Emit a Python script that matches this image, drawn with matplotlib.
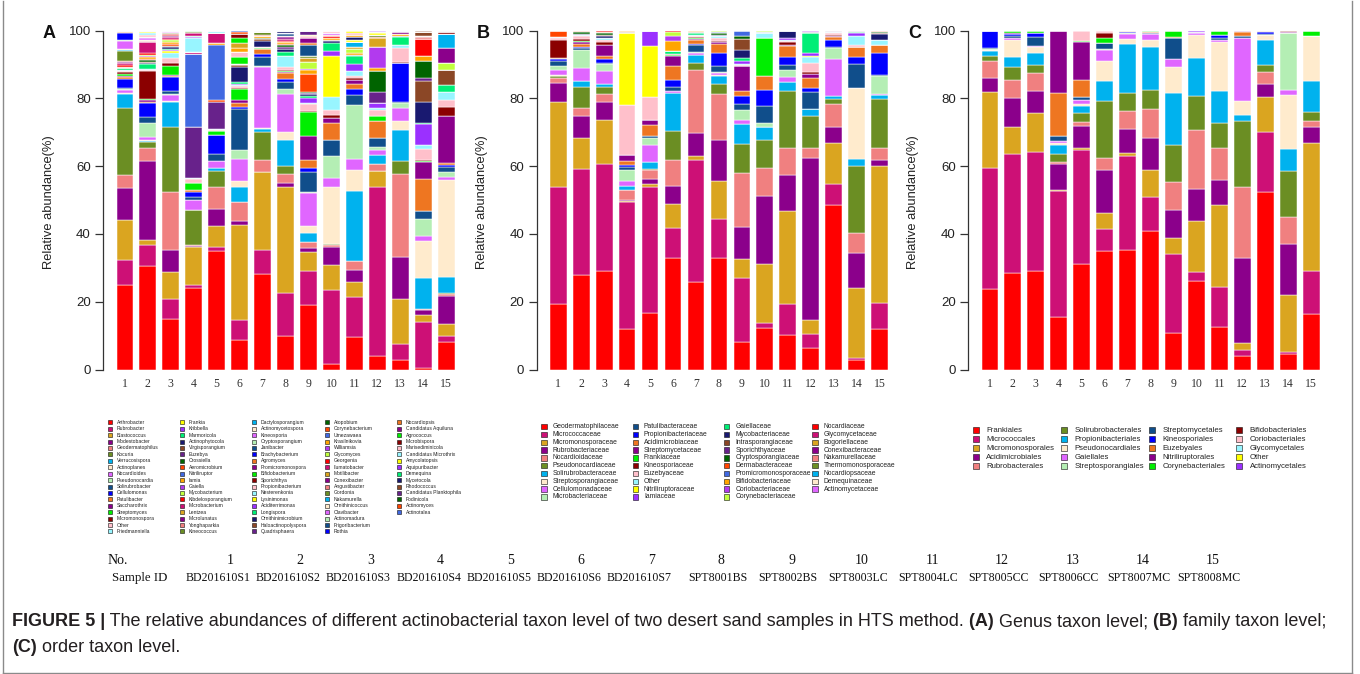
import matplotlib
matplotlib.use('Agg')
import matplotlib.pyplot as plt
from matplotlib.patches import Rectangle
from matplotlib.lines import Line2D
import numpy as np

plt.rcParams['font.family'] = ['Liberation Sans', 'DejaVu Sans']

W, H = 1360, 674

palette = ['#FF0000', '#CD1076', '#DAA520', '#8B008B', '#F08080', '#6B8E23',
           '#00B2EE', '#FFEBCD', '#E066FF', '#B4EEB4', '#104E8B', '#0000FF',
           '#EE7621', '#8B008B', '#00EE00', '#8B0000', '#FFC0CB', '#98F5FF',
           '#FFFF00', '#9B30FF', '#00EE76', '#191970', '#8B4726', '#68228B',
           '#006400', '#FF4500', '#4169E1', '#FFA500', '#B23AEE', '#C0FF3E']

# ---------------- Panel A : genus level ----------------
genus_names = [
    'Arthrobacter', 'Rubrobacter', 'Blastococcus', 'Modestobacter', 'Geodermatophilus', 'Kocuria',
    'Verrucosispora', 'Actinoplanes', 'Nocardioides', 'Pseudonocardia', 'Solirubrobacter', 'Cellulomonas',
    'Patulibacter', 'Saccharothrix', 'Streptomyces', 'Micromonospora', 'Other', 'Friedmanniella',
    'Frankia', 'Kribbella', 'Marmoricola', 'Actinophytocola', 'Virgisporangium', 'Euzebya',
    'Crossiella', 'Aeromicrobium', 'Nitriliruptor', 'Iamia', 'Gaiella', 'Mycobacterium',
    'Kibdelosporangium', 'Microbacterium', 'Lentzea', 'Microlunatus', 'Yonghaparkia', 'Kineococcus',
    'Dactylosporangium', 'Actinomycetospora', 'Kineosporia', 'Cryptosporangium', 'Janibacter', 'Brachybacterium',
    'Agromyces', 'Promicromonospora', 'Bifidobacterium', 'Sporichthya', 'Propionibacterium', 'Nesterenkonia',
    'Lysinimonas', 'Aciditerrimonas', 'Longispora', 'Ornithinimicrobium', 'Haloactinopolyspora', 'Quadrisphaera',
    'Atopobium', 'Corynebacterium', 'Umezawaea', 'Krasilnikovia', 'Williamsia', 'Glycomyces',
    'Georgenia', 'Ilumatobacter', 'Motilibacter', 'Conexibacter', 'Angustibacter', 'Gordonia',
    'Nakamurella', 'Ornithinicoccus', 'Clavibacter', 'Actinomadura', 'Frigoribacterium', 'Rothia',
    'Nocardiopsis', 'Candidatus Aquiluna', 'Agrococcus', 'Microbispora', 'Marisediminicola', 'Candidatus Microthrix',
    'Amycolatopsis', 'Aquipuribacter', 'Demequina', 'Mycetocola', 'Rhodococcus', 'Candidatus Planktophila',
    'Fodinicola', 'Actinomyces', 'Actinotalea']

genus_1 = {'Arthrobacter': 25.0, 'Rubrobacter': 7.4, 'Blastococcus': 11.6, 'Modestobacter': 9.7,
           'Geodermatophilus': 3.6, 'Kocuria': 19.9, 'Verrucosispora': 4.1, 'Actinoplanes': 0.4,
           'Nocardioides': 0.9, 'Pseudonocardia': 0.3, 'Solirubrobacter': 0.3, 'Cellulomonas': 2.4,
           'Patulibacter': 0.6, 'Saccharothrix': 0.3, 'Streptomyces': 0.8, 'Micromonospora': 0.4,
           'Other': 0.4, 'Friedmanniella': 0.3, 'Marmoricola': 0.6, 'Aeromicrobium': 0.4,
           'Kibdelosporangium': 0.4, 'Microbacterium': 0.6, 'Microlunatus': 0.3, 'Yonghaparkia': 0.3,
           'Kineococcus': 2.9, 'Dactylosporangium': 0.3, 'Actinomycetospora': 0.3, 'Kineosporia': 2.5,
           'Cryptosporangium': 0.2, 'Brachybacterium': 2.2, 'Agromyces': 0.3, 'Sporichthya': 0.3}
genus_2 = {'Arthrobacter': 30.5, 'Rubrobacter': 6.3, 'Blastococcus': 1.5, 'Modestobacter': 23.1,
           'Geodermatophilus': 4.1, 'Kocuria': 1.6, 'Verrucosispora': 0.3, 'Actinoplanes': 0.4,
           'Nocardioides': 0.7, 'Pseudonocardia': 4.4, 'Solirubrobacter': 1.6, 'Cellulomonas': 4.1,
           'Patulibacter': 0.5, 'Saccharothrix': 0.3, 'Streptomyces': 0.4, 'Micromonospora': 8.3,
           'Other': 0.3, 'Friedmanniella': 0.3, 'Marmoricola': 1.5, 'Actinophytocola': 0.4,
           'Virgisporangium': 0.3, 'Crossiella': 0.4, 'Aeromicrobium': 0.4, 'Iamia': 0.6, 'Gaiella': 0.3,
           'Mycobacterium': 0.3, 'Kibdelosporangium': 0.4, 'Microbacterium': 3.3, 'Yonghaparkia': 0.4,
           'Actinomycetospora': 0.4, 'Kineosporia': 0.5, 'Cryptosporangium': 0.3, 'Propionibacterium': 0.6,
           'Nesterenkonia': 0.5, 'Lysinimonas': 0.3, 'Aciditerrimonas': 0.4}
genus_3 = {'Arthrobacter': 14.9, 'Rubrobacter': 5.9, 'Blastococcus': 8.0, 'Modestobacter': 6.6,
           'Geodermatophilus': 16.9, 'Kocuria': 19.2, 'Verrucosispora': 7.6, 'Actinoplanes': 0.2,
           'Nocardioides': 1.7, 'Pseudonocardia': 0.3, 'Solirubrobacter': 0.9, 'Cellulomonas': 4.2,
           'Patulibacter': 0.3, 'Saccharothrix': 0.2, 'Streptomyces': 2.8, 'Micromonospora': 0.7,
           'Other': 1.6, 'Friedmanniella': 1.3, 'Frankia': 0.6, 'Kribbella': 0.4, 'Marmoricola': 0.4,
           'Actinophytocola': 0.6, 'Virgisporangium': 0.3, 'Aeromicrobium': 0.4, 'Iamia': 0.8,
           'Mycobacterium': 0.5, 'Kibdelosporangium': 0.3, 'Microbacterium': 0.4, 'Microlunatus': 0.5,
           'Yonghaparkia': 0.4, 'Kineococcus': 0.4, 'Kineosporia': 0.3, 'Brachybacterium': 0.4}
genus_4 = {'Arthrobacter': 24.1, 'Rubrobacter': 0.8, 'Blastococcus': 11.2, 'Modestobacter': 0.4,
           'Geodermatophilus': 0.2, 'Kocuria': 10.3, 'Verrucosispora': 0.2, 'Nocardioides': 2.8,
           'Solirubrobacter': 0.8, 'Cellulomonas': 1.5, 'Patulibacter': 0.7, 'Streptomyces': 2.0,
           'Other': 1.2, 'Friedmanniella': 0.3, 'Euzebya': 15.0, 'Nitriliruptor': 21.5,
           'Microbacterium': 0.8, 'Nesterenkonia': 3.9, 'Aciditerrimonas': 0.3, 'Longispora': 0.4,
           'Ilumatobacter': 0.8, 'Gordonia': 0.4, 'Agrococcus': 0.4}
genus_5 = {'Arthrobacter': 34.9, 'Rubrobacter': 1.3, 'Blastococcus': 6.3, 'Modestobacter': 4.9,
           'Geodermatophilus': 6.6, 'Kocuria': 4.6, 'Verrucosispora': 0.8, 'Nocardioides': 2.0,
           'Solirubrobacter': 2.2, 'Cellulomonas': 5.5, 'Streptomyces': 1.3, 'Other': 0.3,
           'Friedmanniella': 0.4, 'Euzebya': 8.0, 'Aeromicrobium': 0.5, 'Nitriliruptor': 16.2,
           'Iamia': 0.6, 'Microbacterium': 2.8, 'Nesterenkonia': 0.8}
genus_6 = {'Arthrobacter': 8.8, 'Rubrobacter': 5.9, 'Blastococcus': 28.0, 'Modestobacter': 1.0,
           'Geodermatophilus': 5.6, 'Verrucosispora': 4.7, 'Actinoplanes': 1.6, 'Nocardioides': 6.6,
           'Pseudonocardia': 2.6, 'Solirubrobacter': 12.0, 'Cellulomonas': 0.6, 'Patulibacter': 1.2,
           'Saccharothrix': 1.0, 'Streptomyces': 3.1, 'Micromonospora': 0.4, 'Other': 0.5,
           'Friedmanniella': 0.4, 'Kribbella': 0.3, 'Marmoricola': 0.7, 'Actinophytocola': 4.4,
           'Virgisporangium': 0.4, 'Crossiella': 0.4, 'Bifidobacterium': 2.1, 'Propionibacterium': 1.5,
           'Krasilnikovia': 1.2, 'Motilibacter': 1.5, 'Agrococcus': 1.2, 'Microbispora': 1.2,
           'Actinomyces': 0.6, 'Actinotalea': 0.5}
genus_7 = {'Arthrobacter': 28.3, 'Rubrobacter': 7.1, 'Blastococcus': 23.0, 'Geodermatophilus': 3.5,
           'Kocuria': 8.3, 'Verrucosispora': 0.7, 'Actinoplanes': 0.3, 'Nocardioides': 18.2,
           'Pseudonocardia': 0.3, 'Solirubrobacter': 2.6, 'Cellulomonas': 0.7, 'Patulibacter': 1.6,
           'Streptomyces': 0.4, 'Other': 0.3, 'Actinophytocola': 1.8, 'Virgisporangium': 0.5,
           'Crossiella': 0.3, 'Iamia': 0.4, 'Yonghaparkia': 0.5, 'Kineococcus': 0.8,
           'Haloactinopolyspora': 0.4}
genus_8 = {'Arthrobacter': 9.8, 'Rubrobacter': 12.8, 'Blastococcus': 31.4, 'Modestobacter': 1.0,
           'Geodermatophilus': 2.6, 'Kocuria': 2.6, 'Verrucosispora': 7.5, 'Actinoplanes': 2.5,
           'Nocardioides': 11.1, 'Pseudonocardia': 1.5, 'Solirubrobacter': 2.2, 'Cellulomonas': 0.7,
           'Patulibacter': 1.7, 'Saccharothrix': 0.4, 'Streptomyces': 0.3, 'Micromonospora': 0.4,
           'Other': 0.9, 'Friedmanniella': 3.1, 'Marmoricola': 1.2, 'Actinophytocola': 0.8,
           'Euzebya': 0.8, 'Crossiella': 0.4, 'Aeromicrobium': 0.5, 'Iamia': 0.5,
           'Kibdelosporangium': 0.4, 'Microbacterium': 0.5, 'Microlunatus': 0.5, 'Yonghaparkia': 0.4,
           'Janibacter': 0.6, 'Brachybacterium': 0.3, 'Ornithinimicrobium': 0.6}
genus_9 = {'Arthrobacter': 19.0, 'Rubrobacter': 10.1, 'Blastococcus': 5.5, 'Modestobacter': 1.4,
           'Geodermatophilus': 1.6, 'Verrucosispora': 2.7, 'Actinoplanes': 2.2, 'Nocardioides': 9.6,
           'Pseudonocardia': 0.3, 'Solirubrobacter': 5.8, 'Cellulomonas': 1.4, 'Patulibacter': 2.3,
           'Saccharothrix': 6.9, 'Streptomyces': 7.3, 'Micromonospora': 0.3, 'Other': 1.9,
           'Friedmanniella': 0.5, 'Kribbella': 1.2, 'Marmoricola': 0.6, 'Actinophytocola': 0.6,
           'Euzebya': 0.4, 'Crossiella': 0.4, 'Aeromicrobium': 5.2, 'Iamia': 1.2, 'Gaiella': 0.3,
           'Mycobacterium': 2.1, 'Lentzea': 1.2, 'Kineococcus': 0.5, 'Janibacter': 3.2,
           'Agromyces': 0.8, 'Promicromonospora': 1.3, 'Propionibacterium': 0.5, 'Lysinimonas': 0.5,
           'Quadrisphaera': 1.2}
genus_10 = {'Arthrobacter': 1.5, 'Rubrobacter': 21.9, 'Blastococcus': 7.5, 'Modestobacter': 5.2,
            'Geodermatophilus': 0.7, 'Kocuria': 0.2, 'Actinoplanes': 17.0, 'Nocardioides': 2.5,
            'Pseudonocardia': 6.6, 'Solirubrobacter': 4.5, 'Patulibacter': 5.1, 'Saccharothrix': 1.4,
            'Micromonospora': 1.0, 'Other': 1.5, 'Friedmanniella': 3.8, 'Frankia': 12.2,
            'Kribbella': 1.4, 'Marmoricola': 2.5, 'Actinophytocola': 0.4, 'Virgisporangium': 0.4,
            'Iamia': 0.5, 'Kibdelosporangium': 0.5, 'Yonghaparkia': 0.5, 'Kineosporia': 0.4,
            'Propionibacterium': 0.8}
genus_11 = {'Arthrobacter': 9.6, 'Rubrobacter': 11.7, 'Blastococcus': 4.5, 'Modestobacter': 3.7,
            'Geodermatophilus': 2.6, 'Verrucosispora': 20.5, 'Actinoplanes': 6.3, 'Nocardioides': 3.3,
            'Pseudonocardia': 15.9, 'Solirubrobacter': 2.9, 'Cellulomonas': 1.7, 'Patulibacter': 1.6,
            'Saccharothrix': 1.2, 'Micromonospora': 0.6, 'Other': 0.6, 'Friedmanniella': 1.5,
            'Kribbella': 2.1, 'Marmoricola': 2.2, 'Actinophytocola': 0.4, 'Iamia': 0.6,
            'Mycobacterium': 1.0, 'Lentzea': 0.7, 'Dactylosporangium': 1.5, 'Lysinimonas': 0.6,
            'Ornithinimicrobium': 0.8, 'Krasilnikovia': 0.6, 'Marisediminicola': 0.7, 'Amycolatopsis': 0.6}
genus_12 = {'Arthrobacter': 3.9, 'Rubrobacter': 50.1, 'Blastococcus': 4.7, 'Geodermatophilus': 2.0,
            'Verrucosispora': 2.7, 'Nocardioides': 1.4, 'Pseudonocardia': 1.0, 'Solirubrobacter': 2.5,
            'Patulibacter': 4.9, 'Streptomyces': 1.5, 'Other': 1.9, 'Friedmanniella': 0.5,
            'Kribbella': 1.5, 'Euzebya': 3.4, 'Crossiella': 6.1, 'Iamia': 0.8, 'Gaiella': 6.4,
            'Lentzea': 2.4, 'Yonghaparkia': 0.4, 'Kineococcus': 0.5, 'Lysinimonas': 0.6,
            'Longispora': 0.4, 'Aquipuribacter': 0.4}
genus_13 = {'Arthrobacter': 2.8, 'Rubrobacter': 4.6, 'Blastococcus': 13.4, 'Modestobacter': 12.4,
            'Geodermatophilus': 24.5, 'Kocuria': 3.7, 'Verrucosispora': 9.3, 'Actinoplanes': 2.5,
            'Nocardioides': 3.9, 'Pseudonocardia': 1.5, 'Solirubrobacter': 0.4, 'Cellulomonas': 11.4,
            'Micromonospora': 0.5, 'Other': 3.9, 'Friedmanniella': 1.0, 'Marmoricola': 2.2,
            'Actinophytocola': 0.5, 'Iamia': 0.5, 'Microlunatus': 0.5, 'Kineosporia': 0.5}
genus_14 = {'Arthrobacter': 0.5, 'Rubrobacter': 13.4, 'Blastococcus': 2.3, 'Modestobacter': 1.5,
            'Geodermatophilus': 0.2, 'Verrucosispora': 9.1, 'Actinoplanes': 11.0, 'Nocardioides': 1.3,
            'Pseudonocardia': 5.1, 'Solirubrobacter': 2.3, 'Patulibacter': 9.5, 'Saccharothrix': 4.9,
            'Streptomyces': 0.3, 'Micromonospora': 0.3, 'Other': 3.3, 'Friedmanniella': 1.3,
            'Kribbella': 6.2, 'Marmoricola': 0.4, 'Actinophytocola': 6.2, 'Virgisporangium': 6.2,
            'Euzebya': 0.7, 'Crossiella': 5.2, 'Iamia': 1.3, 'Kibdelosporangium': 5.1,
            'Yonghaparkia': 0.5, 'Dactylosporangium': 0.4, 'Haloactinopolyspora': 1.0, 'Rhodococcus': 0.5}
genus_15 = {'Arthrobacter': 8.1, 'Rubrobacter': 1.7, 'Blastococcus': 3.7, 'Modestobacter': 8.3,
            'Geodermatophilus': 0.5, 'Kocuria': 0.4, 'Verrucosispora': 4.6, 'Actinoplanes': 28.5,
            'Nocardioides': 0.9, 'Pseudonocardia': 1.7, 'Solirubrobacter': 1.3, 'Cellulomonas': 0.7,
            'Patulibacter': 0.5, 'Saccharothrix': 13.8, 'Micromonospora': 2.9, 'Other': 2.0,
            'Friedmanniella': 2.4, 'Marmoricola': 2.0, 'Virgisporangium': 4.4, 'Mycobacterium': 2.0,
            'Microlunatus': 4.4, 'Dactylosporangium': 4.2, 'Sporichthya': 0.6, 'Haloactinopolyspora': 0.4}

genus_samples = [genus_1, genus_2, genus_3, genus_4, genus_5, genus_6, genus_7, genus_8,
                 genus_9, genus_10, genus_11, genus_12, genus_13, genus_14, genus_15]

# ---------------- Panel B : family level ----------------
family_names = [
    'Geodermatophilaceae', 'Micrococcaceae', 'Micromonosporaceae', 'Rubrobacteriaceae', 'Nocardioidaceae',
    'Pseudonocardiaceae', 'Solirubrobacteraceae', 'Streptosporangiaceae', 'Cellulomonadaceae', 'Microbacteriaceae',
    'Patulibacteraceae', 'Propionibacteriaceae', 'Acidimicrobiaceae', 'Streptomycetaceae', 'Frankiaceae',
    'Kineosporiaceae', 'Euzebyaceae', 'Other', 'Nitriliruptoraceae', 'Iamiaceae',
    'Gaiellaceae', 'Mycobacteriaceae', 'Intrasporangiaceae', 'Sporichthyaceae', 'Cryptosporangiaceae',
    'Dermabacteraceae', 'Promicromonosporaceae', 'Bifidobacteriaceae', 'Coriobacteriaceae', 'Corynebacteriaceae',
    'Nocardiaceae', 'Glycomycetaceae', 'Bogoriellaceae', 'Conexibacteraceae', 'Nakamurellaceae',
    'Thermomonosporaceae', 'Nocardiopsaceae', 'Demequinaceae', 'Actinomycetaceae']

family_1 = [19.2, 34.8, 25.1, 5.6, 1.4, 0.5, 0.1, 0.2, 1.6, 1.2, 1.4, 0.4, 0.3, 0.2, 0, 5.4, 0.3, 0.3,
            0, 0, 0, 0, 0, 0, 0, 2.0]
family_2 = [27.9, 31.2, 9.3, 6.3, 2.6, 6.1, 1.7, 0.1, 3.8, 5.3, 0.5, 0.5, 0.9, 0.4, 0.3, 0.6, 0.8, 0.4,
            0, 0, 0, 0.3, 0, 0, 0.6, 0.2, 0, 0.2]
family_3 = [29.1, 31.6, 12.8, 5.6, 2.3, 2.0, 0.8, 0.2, 3.8, 1.9, 0.5, 1.1, 0.8, 3.2, 0, 0.9, 0.6, 0.6,
            0, 0, 0, 0.6, 0.4, 0, 0.4, 0.4, 0, 0, 0, 0, 0.4]
family_4 = [12.1, 37.3, 0.3, 0.4, 2.9, 0, 1.3, 0, 1.2, 3.4, 1.0, 0.5, 1.0, 1.8, 0, 0, 14.8, 0,
            21.2, 0.2, 0, 0, 0.3, 0, 0, 0, 0, 0.3]
family_5 = [16.8, 37.2, 0.8, 1.5, 2.7, 0.3, 1.9, 0, 5.0, 2.0, 0.8, 0, 3.2, 1.3, 0, 0, 6.8, 0,
            15.2, 4.5]
family_6 = [32.8, 9.0, 7.0, 5.5, 7.4, 8.7, 11.2, 0, 0.6, 0, 1.2, 2.0, 4.1, 3.0, 0.3, 0.3, 0, 0,
            0, 0, 1.0, 0, 0, 0, 0, 0, 0, 3.0, 1.3, 1.2, 0.4]
family_7 = [25.7, 36.2, 1.0, 7.0, 18.5, 2.1, 2.4, 0, 0.5, 0.3, 2.0, 0.3, 1.2, 0.3, 0.3, 0.2, 0.5, 0.3,
            0, 0, 0.4, 0, 0.4, 0, 0, 0, 0, 0.4]
family_8 = [32.9, 11.6, 11.1, 12.2, 13.6, 3.0, 2.2, 0.3, 0.5, 0.3, 2.0, 3.6, 2.9, 0.4, 0, 0.4, 0.8, 0.6,
            0, 0, 0, 0.4, 0, 0, 0.5, 0, 0.4, 0, 0, 0.3]
family_9 = [8.2, 18.7, 5.6, 9.5, 15.9, 8.8, 5.7, 0, 1.3, 2.8, 2.0, 2.1, 1.6, 7.3, 0, 0, 0.5, 0.3,
            0, 0.7, 1.0, 2.3, 3.2, 0, 0.8, 0, 1.7]
family_10 = [12.3, 1.5, 17.2, 20.3, 8.3, 8.1, 3.9, 0, 0, 1.2, 4.9, 4.9, 4.0, 0, 11.1, 0, 0, 1.5,
             0, 0, 0, 0.5, 0, 0, 0, 0, 0, 0, 0, 0.3]
family_11 = [10.1, 9.1, 27.5, 10.6, 8.2, 16.6, 2.7, 0, 1.5, 2.1, 1.4, 2.5, 3.2, 0.4, 0, 0.9, 0.3, 0.3,
             0, 0.3, 0, 2.3]
family_12 = [6.2, 4.2, 4.1, 47.8, 3.1, 9.3, 2.3, 0, 0, 0, 4.9, 1.2, 2.8, 1.2, 0, 0.6, 2.8, 1.8,
             0.3, 0.7, 5.9, 0, 0, 0.4, 0, 0, 0, 0, 0.4]
family_13 = [48.7, 6.1, 12.1, 4.7, 6.7, 1.6, 0.8, 0, 10.8, 3.5, 0.3, 2.1, 0.6, 0.3, 0, 0.4, 0.5, 0.3,
             0, 0, 0, 0, 0, 0.5]
family_14 = [2.8, 0.5, 20.9, 10.1, 6.1, 19.8, 1.8, 21.0, 0, 0, 7.3, 2.0, 3.0, 0, 0, 0, 0.4, 2.7,
             0, 0.8, 0.3, 0.2, 0, 0.3]
family_15 = [12.1, 7.4, 40.7, 1.7, 3.6, 14.2, 1.2, 0, 0.5, 5.3, 0.3, 6.5, 2.3, 0, 0, 0, 0, 1.6,
             0, 0, 0, 1.6, 0.3, 0, 0.4, 0.3]

family_samples = [family_1, family_2, family_3, family_4, family_5, family_6, family_7, family_8,
                  family_9, family_10, family_11, family_12, family_13, family_14, family_15]

# ---------------- Panel C : order level ----------------
order_names = [
    'Frankiales', 'Micrococcales', 'Micromonosporales', 'Acidimicrobiales', 'Rubrobacterales',
    'Solirubrobacterales', 'Propionibacteriales', 'Pseudonocardiales', 'Gaiellales', 'Streptosporangiales',
    'Streptomycetales', 'Kineosporiales', 'Euzebyales', 'Nitriliruptorales', 'Corynebacteriales',
    'Bifidobacteriales', 'Coriobacteriales', 'Glycomycetales', 'Other', 'Actinomycetales']

order_1 = [23.8, 35.8, 22.4, 4.0, 5.1, 1.4, 1.6, 0.3, 0, 0.2, 0.4, 5.0]
order_2 = [28.5, 35.2, 7.8, 8.5, 5.4, 4.0, 2.9, 4.9, 0.5, 0.2, 0.6, 0.4, 0.2, 0.2, 0.5, 0.1, 0, 0, 0.1]
order_3 = [29.2, 35.0, 11.6, 6.4, 5.2, 2.5, 3.6, 1.8, 0.1, 0.1, 2.6, 1.2, 0, 0, 0.7]
order_4 = [15.5, 37.3, 0.2, 7.7, 0.5, 2.5, 2.6, 0.5, 0.5, 0, 1.5, 0.2, 12.7, 18.3]
order_5 = [31.2, 33.6, 0.7, 6.4, 1.2, 2.5, 2.2, 0.6, 1.2, 0, 0.8, 0, 5.1, 11.3, 0.3, 0, 2.9]
order_6 = [34.9, 6.6, 4.7, 12.7, 3.6, 16.7, 6.1, 5.9, 3.1, 0.2, 2.0, 0, 0, 0, 1.2, 1.7, 0.6]
order_7 = [35.2, 27.9, 0.9, 7.1, 5.3, 5.3, 14.3, 1.6, 1.4, 0.2, 0.2, 0.1, 0.3, 0.2]
order_8 = [40.9, 10.0, 8.1, 9.4, 8.6, 5.5, 12.8, 2.1, 1.6, 0, 0.2, 0, 0.4, 0, 0.4]
order_9 = [10.8, 23.2, 4.7, 8.4, 8.1, 11.2, 15.3, 7.7, 2.2, 0, 6.1, 0, 0.3, 0, 2.0]
order_10 = [26.2, 2.7, 14.8, 9.5, 17.5, 10.0, 11.3, 6.8, 0.6, 0, 0.3, 0, 0, 0, 0, 0, 0, 0, 0, 0.3]
order_11 = [12.6, 11.7, 24.2, 7.5, 9.3, 7.4, 9.5, 14.5, 0.7, 0, 0.3, 1.1, 0, 0, 1.2]
order_12 = [4.1, 1.8, 2.0, 25.0, 21.1, 19.2, 1.9, 4.2, 18.4, 0, 0.7, 0, 1.2, 0.2, 0, 0, 0, 0, 0, 0.2]
order_13 = [52.4, 17.8, 10.2, 3.8, 3.6, 2.0, 7.6, 1.3, 0, 0, 0.2, 0.7, 0.2, 0, 0.2]
order_14 = [4.6, 0.7, 16.6, 15.2, 7.9, 13.6, 6.5, 15.8, 1.7, 16.6, 0, 0, 0.2, 0.2, 0, 0.4]
order_15 = [16.5, 12.5, 38.0, 4.5, 1.7, 2.8, 9.1, 13.3, 0, 0.1, 0, 0, 0, 0, 1.5]

order_samples = [order_1, order_2, order_3, order_4, order_5, order_6, order_7, order_8,
                 order_9, order_10, order_11, order_12, order_13, order_14, order_15]

sample_no = ['1', '2', '3', '4', '5', '6', '7', '8', '9', '10', '11', '12', '13', '14', '15']
sample_ids = ['BD201610S1', 'BD201610S2', 'BD201610S3', 'BD201610S4', 'BD201610S5', 'BD201610S6',
              'BD201610S7', 'SPT8001BS', 'SPT8002BS', 'SPT8003LC', 'SPT8004LC', 'SPT8005CC',
              'SPT8006CC', 'SPT8007MC', 'SPT8008MC']


def matrix_from_dicts(names, samples):
    m = np.zeros((len(names), len(samples)))
    for j, s in enumerate(samples):
        for k, v in s.items():
            m[names.index(k), j] = v
    return m


def matrix_from_lists(names, samples):
    m = np.zeros((len(names), len(samples)))
    for j, s in enumerate(samples):
        m[:len(s), j] = s
    return m


fig = plt.figure(figsize=(W / 100, H / 100), dpi=100)


def fx(x):
    return x / W


def fy(y):
    return 1 - y / H


Y0, Y100 = 369.5, 30.7
UNIT = 22.95
XL, XR = 0.06, 15.6


def panel(spine_x, mat, letter, letter_x, ylab_x):
    mat = mat / mat.sum(axis=0) * 100.0
    ax = fig.add_axes([fx(spine_x), fy(Y0), (XR - XL) * UNIT / W, (Y0 - Y100) / H])
    x = np.arange(1, mat.shape[1] + 1)
    bottom = np.zeros(mat.shape[1])
    for i in range(mat.shape[0]):
        if mat[i].sum() <= 0:
            continue
        ax.bar(x, mat[i], bottom=bottom, width=0.727, color=palette[i % 30],
               edgecolor='white', linewidth=0.35)
        bottom += mat[i]
    ax.set_xlim(XL, XR)
    ax.set_ylim(0, 100)
    for s in ['top', 'right', 'bottom']:
        ax.spines[s].set_visible(False)
    ax.spines['left'].set_bounds(0, 100)
    ax.spines['left'].set_color('#333333')
    ax.spines['left'].set_linewidth(0.9)
    ax.set_yticks([0, 20, 40, 60, 80, 100])
    ax.tick_params(axis='y', length=6, width=0.9, color='#333333', labelsize=9.5, pad=3,
                   labelcolor='#222222')
    ax.set_xticks(x)
    ax.set_xticklabels(sample_no, family=['Liberation Serif', 'DejaVu Serif'], fontsize=8.5,
                       color='#333333')
    ax.tick_params(axis='x', length=0, pad=6)
    fig.text(fx(letter_x), fy(33), letter, fontsize=13, fontweight='bold', ha='center',
             va='center', color='#111111')
    fig.text(fx(ylab_x), fy(202), 'Relative abundance(%)', fontsize=9.3, rotation=90,
             ha='center', va='center', color='#222222')
    return ax


panel(103.3, matrix_from_dicts(genus_names, genus_samples), 'A', 49, 49)
panel(536.7, matrix_from_lists(family_names, family_samples), 'B', 483, 482)
panel(968.3, matrix_from_lists(order_names, order_samples), 'C', 915, 913)


def legend(names, col_x, y0, dy, nrows, msize, text_dx, fsize):
    for i, name in enumerate(names):
        c, r = divmod(i, nrows)
        x = col_x[c]
        y = y0 + r * dy
        fig.add_artist(Rectangle((fx(x - msize / 2), fy(y + msize / 2)), msize / W, msize / H,
                                 transform=fig.transFigure, facecolor=palette[i % 30],
                                 edgecolor='#111111', linewidth=0.4))
        fig.text(fx(x + text_dx), fy(y), name, fontsize=fsize, ha='left', va='center',
                 color='#222222')


legend(genus_names, [110, 182, 254, 327, 399], 422.3, 6.42, 18, 4.0, 6.5, 3.6)
legend(family_names, [544, 635.3, 726.7, 815], 426.7, 7.8, 10, 5.5, 8.7, 4.9)
legend(order_names, [975.7, 1064.3, 1152.3, 1239.3], 430, 9.07, 5, 6.0, 10.5, 5.6)

# sample table
serif = ['Liberation Serif', 'DejaVu Serif']
fig.text(fx(108), fy(560), 'No.', fontsize=10, family=serif, ha='left', va='center', color='#111111')
fig.text(fx(112), fy(578), 'Sample ID', fontsize=9.3, family=serif, ha='left', va='center', color='#111111')
for k, (no, sid) in enumerate(zip(sample_no, sample_ids)):
    xc = 230 + 70.2 * k
    fig.text(fx(xc), fy(560), no, fontsize=10, family=serif, ha='center', va='center', color='#111111')
    shift = -12 if sid.startswith('BD') else -4
    fig.text(fx(xc + shift), fy(578), sid, fontsize=8.6, family=serif, ha='center', va='center',
             color='#111111')

# caption
renderer = fig.canvas.get_renderer()


def text_runs(x, y, parts, size):
    for txt, bold in parts:
        t = fig.text(fx(x), fy(y), txt, fontsize=size, fontweight='bold' if bold else 'normal',
                     ha='left', va='center', color='#231f20')
        x += t.get_window_extent(renderer=renderer).width


cap_size = 13.0
text_runs(12, 622, [('FIGURE 5 |', True),
                    (' The relative abundances of different actinobacterial taxon level of two desert sand samples in HTS method.', False),
                    (' (A)', True), (' Genus taxon level;', False), (' (B)', True),
                    (' family taxon level;', False)], cap_size)
text_runs(12, 647, [('(C)', True), (' order taxon level.', False)], cap_size)

# frame
for (xa, ya, xb, yb) in [(3, 0.5, 3, 673), (1352, 0.5, 1352, 673), (3, 673, 1352, 673)]:
    fig.add_artist(Line2D([fx(xa), fx(xb)], [fy(ya), fy(yb)], transform=fig.transFigure,
                          color='#8a8a8a', linewidth=1.0))

fig.savefig('out.png', dpi=100, facecolor='white')
